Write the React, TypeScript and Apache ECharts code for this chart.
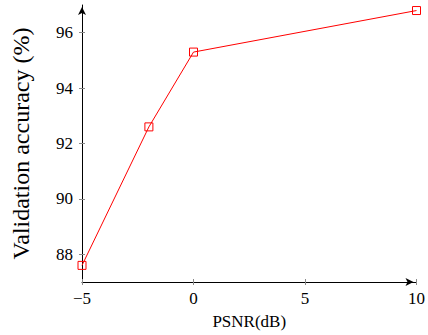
import React, { useEffect, useRef } from "react";
import * as echarts from "echarts";

const psnr = [-5, -2, 0, 10];
const accuracy = [87.6, 92.6, 95.3, 96.8];
const yTicks = [88, 90, 92, 94, 96];
const xLabel = "PSNR(dB)";
const yLabel = "Validation accuracy (%)";

const FONT = "serif";

export default function App() {
  const ref = useRef<HTMLDivElement>(null);
  useEffect(() => {
    document.body.style.margin = "0";
    const chart = echarts.init(ref.current!, null, { renderer: "svg" });
    const tickStyle = { color: "#8a8a8a", width: 1 };
    chart.setOption({
      animation: false,
      backgroundColor: "#ffffff",
      textStyle: { fontFamily: FONT },
      grid: { left: 82, right: 9, top: 5, bottom: 50, containLabel: false },
      xAxis: [
        {
          type: "value",
          min: -5,
          max: 10,
          interval: 5,
          position: "bottom",
          name: xLabel,
          nameLocation: "middle",
          nameGap: 31,
          nameTextStyle: { fontFamily: FONT, fontSize: 17, color: "#000" },
          axisLine: {
            show: true,
            onZero: false,
            lineStyle: { color: "#000", width: 1 },
            symbol: ["none", "arrow"],
            symbolSize: [6, 8],
            symbolOffset: [0, -3],
          },
          axisTick: { show: true, inside: false, length: 3, lineStyle: tickStyle },
          axisLabel: {
            fontFamily: FONT,
            fontSize: 17,
            color: "#000",
            margin: 8,
            formatter: (v: number) => String(v).replace("-", "\u2212"),
          },
          splitLine: { show: false },
        },
        {
          type: "value",
          min: -5,
          max: 10,
          interval: 5,
          position: "bottom",
          axisLine: { show: false, onZero: false },
          axisTick: { show: true, inside: true, length: 3, lineStyle: tickStyle },
          axisLabel: { show: false },
          splitLine: { show: false },
        },
      ],
      yAxis: [
        {
          type: "value",
          min: 87,
          max: 97,
          position: "left",
          name: yLabel,
          nameLocation: "middle",
          nameGap: 49,
          nameTextStyle: { fontFamily: FONT, fontSize: 24, color: "#000" },
          axisLine: {
            show: true,
            onZero: false,
            lineStyle: { color: "#000", width: 1 },
            symbol: ["none", "arrow"],
            symbolSize: [6, 8],
            symbolOffset: [0, -2],
          },
          axisTick: {
            show: true,
            inside: false,
            length: 3,
            lineStyle: tickStyle,
            customValues: yTicks,
          },
          axisLabel: {
            fontFamily: FONT,
            fontSize: 17,
            color: "#000",
            margin: 9,
            customValues: yTicks,
          },
          splitLine: { show: false },
        },
        {
          type: "value",
          min: 87,
          max: 97,
          position: "left",
          axisLine: { show: false, onZero: false },
          axisTick: {
            show: true,
            inside: true,
            length: 3,
            lineStyle: tickStyle,
            customValues: yTicks,
          },
          axisLabel: { show: false },
          splitLine: { show: false },
        },
      ],
      series: [
        {
          type: "line",
          xAxisIndex: 0,
          yAxisIndex: 0,
          data: psnr.map((x, i) => [x, accuracy[i]]),
          symbol: "rect",
          symbolSize: 8,
          showAllSymbol: true,
          lineStyle: { color: "#ff0000", width: 1 },
          itemStyle: { color: "rgba(255,255,255,0)", borderColor: "#ff0000", borderWidth: 1 },
          emphasis: { disabled: true },
        },
      ],
    });
    return () => chart.dispose();
  }, []);
  return <div ref={ref} style={{ width: 428, height: 335 }} />;
}
